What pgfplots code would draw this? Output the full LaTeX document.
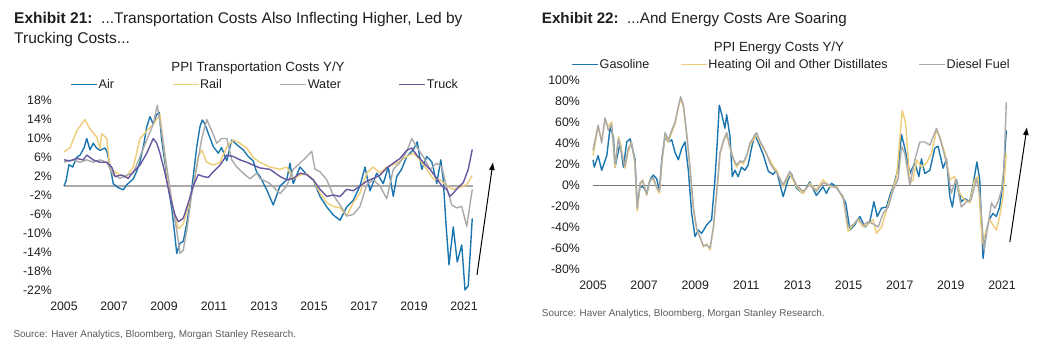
\documentclass[border=0pt]{standalone}
\usepackage{fontspec}
\setmainfont{Liberation Sans}
\usepackage{pgfplots}
\pgfplotsset{compat=1.18}
\usetikzlibrary{arrows.meta}
\definecolor{cblue}{RGB}{27,118,175}
\definecolor{cyel}{RGB}{238,204,120}
\definecolor{cgray}{RGB}{170,170,170}
\definecolor{cpurp}{RGB}{104,86,160}
\definecolor{zerol}{RGB}{170,170,170}
\definecolor{zeror}{RGB}{120,120,120}
\definecolor{txt}{RGB}{30,30,30}
\definecolor{src}{RGB}{90,90,90}
\pgfplotsset{
  msstyle/.style={
    scale only axis, clip=false,
    axis line style={draw=none}, major tick length=0pt,
    /pgf/number format/assume math mode=true,
    tick label style={font=\fontsize{12.3}{14}\selectfont, text=txt},
    yticklabel style={anchor=east, inner sep=0pt},
    xticklabel style={anchor=north, inner sep=0pt},
    xmin=2005, xmax=2022,
    xtick={2005,2007,...,2021},
    xticklabels={2005,2007,2009,2011,2013,2015,2017,2019,2021},
    legend columns=4,
    legend image code/.code={\draw[#1, line width=1pt] (0pt,0pt) -- (26pt,0pt);},
    legend style={draw=none, fill=none, inner sep=0pt, outer sep=0pt,
      font=\fontsize{12.6}{14}\selectfont, text=txt,
      nodes={inner xsep=1pt, inner ysep=0pt}, anchor=west},
    every axis plot/.append style={line width=1.4pt, line join=round},
  }
}
\begin{document}
\begin{tikzpicture}[x=1pt,y=1pt]
\useasboundingbox (0,0) rectangle (1041,-345);
% ---- titles
\node[anchor=base west, inner sep=0pt, font=\fontsize{15.5}{18}\selectfont, text=txt] at (14,-24) {\textbf{Exhibit 21:}\ \ ...Transportation Costs Also Inflecting Higher, Led by};
\node[anchor=base west, inner sep=0pt, font=\fontsize{15.5}{18}\selectfont, text=txt] at (14,-43.5) {Trucking Costs...};
\node[anchor=base west, inner sep=0pt, font=\fontsize{15.2}{18}\selectfont, text=txt] at (541.7,-24) {\textbf{Exhibit 22:}\ \ ...And Energy Costs Are Soaring};
\node[anchor=base, inner sep=0pt, font=\fontsize{13.3}{16}\selectfont, text=txt] at (258,-71.7) {PPI Transportation Costs Y/Y};
\node[anchor=base, inner sep=0pt, font=\fontsize{13.3}{16}\selectfont, text=txt] at (779,-51.7) {PPI Energy Costs Y/Y};
\node[anchor=base west, inner sep=0pt, font=\fontsize{9.9}{12}\selectfont, text=src] at (13.3,-337.5) {Source: Haver Analytics, Bloomberg, Morgan Stanley Research.};
\node[anchor=base west, inner sep=0pt, font=\fontsize{9.9}{12}\selectfont, text=src] at (541.7,-316.5) {Source: Haver Analytics, Bloomberg, Morgan Stanley Research.};

% ---- left axis
\begin{axis}[msstyle, at={(64pt,-290.5pt)}, anchor=south west,
  width=425pt, height=190pt, ymin=-22, ymax=18,
  ytick={-22,-18,...,18},
  yticklabels={-22\%,-18\%,-14\%,-10\%,-6\%,-2\%,2\%,6\%,10\%,14\%,18\%},
  yticklabel style={xshift=-12pt},
  xticklabel style={yshift=-11pt},
  legend style={at={(rel axis cs:0.0158,1.083)}, /tikz/every even column/.append style={column sep=57pt}},
]
\addplot[zerol, line width=1.6pt, forget plot] coordinates {(2005,0) (2021.35,0)};
\addplot[cblue] coordinates {(2005.0,0) (2005.08,1) (2005.2,4.5) (2005.35,4) (2005.5,6) (2005.64,6.5) (2005.8,8) (2005.91,10) (2006.04,7.6) (2006.17,9) (2006.3,8) (2006.44,7.5) (2006.64,8) (2006.72,7.2) (2006.85,4) (2006.97,0.5) (2007.15,-0.3) (2007.37,-0.8) (2007.5,0.2) (2007.77,1.5) (2007.9,3) (2008.04,5.1) (2008.2,9) (2008.31,12.5) (2008.44,14.6) (2008.57,13) (2008.7,15) (2008.81,15.5) (2008.9,10) (2009.04,4.8) (2009.17,-0.2) (2009.31,-4.7) (2009.44,-10.7) (2009.51,-14.2) (2009.64,-12) (2009.77,-11.7) (2009.91,-7.9) (2010.04,-3.6) (2010.17,2) (2010.31,8.3) (2010.44,12.5) (2010.53,13.9) (2010.64,13) (2010.77,11.1) (2010.97,8.3) (2011.17,6.9) (2011.3,8.1) (2011.51,5.3) (2011.71,9.7) (2011.91,8.7) (2012.17,7.6) (2012.37,6.2) (2012.57,5.3) (2012.7,3) (2012.84,2) (2013.11,-0.8) (2013.37,-4) (2013.64,0) (2013.91,1.3) (2014.04,4.8) (2014.17,0.5) (2014.44,4) (2014.71,2.4) (2014.97,1.3) (2015.24,-2.2) (2015.51,-4.4) (2015.77,-6.1) (2016.04,-7.2) (2016.31,-4.4) (2016.57,-3) (2016.84,0) (2017.04,4) (2017.24,-1) (2017.51,2.7) (2017.77,0.5) (2017.97,4) (2018.17,-2.2) (2018.31,2) (2018.5,3.5) (2018.71,6.2) (2018.97,7.6) (2019.13,9.3) (2019.31,3.5) (2019.51,6.2) (2019.71,5.1) (2019.91,0.5) (2020.07,5.5) (2020.17,1.3) (2020.28,-8) (2020.4,-16.6) (2020.57,-8.6) (2020.73,-16) (2020.91,-12.4) (2021.04,-21.9) (2021.17,-21) (2021.33,-6.8)};
\addlegendentry{Air}
\addplot[cyel] coordinates {(2005.0,7.2) (2005.24,8) (2005.51,11.6) (2005.84,14) (2006.04,12) (2006.31,10.3) (2006.44,7.8) (2006.51,11) (2006.71,10) (2006.84,3.5) (2007.04,3) (2007.24,2.3) (2007.5,2) (2007.77,4) (2008.04,10) (2008.31,11.6) (2008.57,13) (2008.84,15) (2008.97,9) (2009.17,0.5) (2009.37,-5) (2009.57,-9) (2009.77,-8) (2009.97,-4.4) (2010.17,0) (2010.37,6.2) (2010.51,7.6) (2010.71,5) (2010.97,4.4) (2011.24,5) (2011.51,8.2) (2011.77,9.7) (2012.04,9) (2012.31,8) (2012.57,6) (2012.84,5) (2013.24,4) (2013.64,3.5) (2013.91,4) (2014.17,1.5) (2014.44,2.3) (2014.71,2.6) (2014.97,1.3) (2015.24,-1.5) (2015.51,-3.5) (2015.77,-4.3) (2016.04,-4.6) (2016.31,-6.3) (2016.57,-3.5) (2016.84,-1.5) (2017.11,2.7) (2017.37,4) (2017.64,2.7) (2017.91,4) (2018.31,4.8) (2018.71,6.2) (2018.97,6.9) (2019.24,5.5) (2019.51,3.5) (2019.77,1.5) (2020.04,1.3) (2020.31,0) (2020.57,-0.7) (2020.84,-0.3) (2021.11,0.3) (2021.33,2.2)};
\addlegendentry{Rail}
\addplot[cgray] coordinates {(2005.0,5) (2005.37,5.5) (2005.64,5) (2005.91,5.5) (2006.17,5) (2006.44,5.5) (2006.71,5) (2006.97,2.3) (2007.24,1.6) (2007.51,2.3) (2007.77,2.7) (2008.04,6.2) (2008.31,9.7) (2008.57,13) (2008.73,17) (2008.9,11.6) (2009.11,4) (2009.31,-3) (2009.51,-9.4) (2009.64,-14.2) (2009.77,-13.5) (2009.91,-9.4) (2010.11,-1.6) (2010.31,4) (2010.51,10) (2010.71,14) (2010.91,11.6) (2011.11,9) (2011.31,10) (2011.51,10) (2011.71,5.5) (2011.91,4) (2012.17,2.7) (2012.44,1.5) (2012.71,2.7) (2012.84,1.6) (2013.24,0.5) (2013.64,-1.6) (2013.91,0) (2014.17,3.5) (2014.44,4.8) (2014.71,6.2) (2014.91,7.3) (2015.04,3.5) (2015.24,3) (2015.51,1.3) (2015.77,-1.9) (2016.04,-4) (2016.31,-6.3) (2016.57,-6) (2016.84,-4.3) (2017.11,0.3) (2017.37,1.3) (2017.64,0) (2017.91,-2.7) (2018.17,3.5) (2018.44,5) (2018.71,7.3) (2018.91,10) (2019.11,8.2) (2019.37,6.2) (2019.64,3.5) (2019.91,4.8) (2020.11,4) (2020.31,-0.3) (2020.51,-4) (2020.71,-4.6) (2020.91,-4.3) (2021.11,-8.5) (2021.33,-0.7)};
\addlegendentry{Water}
\addplot[cpurp] coordinates {(2005.0,5.5) (2005.24,5.3) (2005.51,5.8) (2005.77,5.5) (2005.91,6.5) (2006.17,5.5) (2006.44,5) (2006.71,5) (2006.91,4) (2007.04,2) (2007.31,2.3) (2007.57,1.6) (2007.77,3) (2008.04,4.4) (2008.31,6.9) (2008.57,10) (2008.71,9) (2008.84,6.9) (2009.04,2.7) (2009.24,-2.2) (2009.44,-6.1) (2009.57,-7.5) (2009.77,-6.8) (2009.97,-3.6) (2010.17,0) (2010.37,2.4) (2010.57,2) (2010.77,1.8) (2010.97,3) (2011.24,4.4) (2011.51,6.5) (2011.77,6.2) (2012.04,5.5) (2012.31,5) (2012.57,4.4) (2012.84,3.8) (2013.24,3.5) (2013.64,2) (2013.91,1.3) (2014.17,1.6) (2014.44,2.7) (2014.71,2.4) (2014.97,1.3) (2015.24,-0.7) (2015.51,-2.2) (2015.77,-1.9) (2016.04,-2.2) (2016.31,-0.7) (2016.57,-1) (2016.84,0) (2017.11,1) (2017.37,1.6) (2017.64,2.3) (2017.91,3.8) (2018.17,4.8) (2018.44,5.8) (2018.71,7.5) (2018.91,8) (2019.11,6.5) (2019.37,5) (2019.64,3.5) (2019.91,1.6) (2020.11,0) (2020.31,-0.7) (2020.44,-2.2) (2020.57,-1.5) (2020.77,-0.3) (2020.97,0.7) (2021.17,3.5) (2021.33,7.7)};
\addlegendentry{Truck}
\draw[-{Latex[length=8pt,width=6pt]}, line width=1pt, black] (axis cs:2021.52,-18.7) -- (axis cs:2022.16,5.05);
\end{axis}

% ---- right axis
\begin{axis}[msstyle, at={(593pt,-269pt)}, anchor=south west,
  width=434.5pt, height=189pt, ymin=-80, ymax=100,
  ytick={-80,-60,...,100},
  yticklabels={-80\%,-60\%,-40\%,-20\%,0\%,20\%,40\%,60\%,80\%,100\%},
  yticklabel style={xshift=-13pt},
  xticklabel style={yshift=-11.5pt},
  legend style={at={(rel axis cs:-0.049,1.083)}, /tikz/every even column/.append style={column sep=30pt}},
]
\addplot[zeror, line width=0.8pt, forget plot] coordinates {(2005,0) (2021.2,0)};
\addplot[cblue] coordinates {(2005.0,24) (2005.05,17) (2005.2,28) (2005.34,14) (2005.54,28) (2005.67,55) (2005.8,46) (2005.86,17) (2006.06,40) (2006.19,17) (2006.32,41) (2006.45,44) (2006.64,25) (2006.73,-20) (2006.84,-2) (2006.97,-1.6) (2007.1,-8) (2007.23,5) (2007.36,9.5) (2007.49,6) (2007.6,-5) (2007.69,24) (2007.82,46) (2007.95,41) (2008.08,43) (2008.21,31) (2008.34,24) (2008.47,35) (2008.6,41) (2008.73,14) (2008.86,-27) (2008.99,-49) (2009.12,-43) (2009.25,-46) (2009.45,-38) (2009.64,-33) (2009.77,5) (2009.86,40) (2009.94,76) (2010.03,68) (2010.16,54) (2010.23,67) (2010.36,46) (2010.45,8) (2010.55,14) (2010.68,8) (2010.81,17) (2010.94,14) (2011.07,19) (2011.2,35) (2011.33,48) (2011.46,41) (2011.66,29) (2011.86,13) (2012.05,10) (2012.18,14) (2012.3,2) (2012.44,-11) (2012.63,5) (2012.76,11) (2012.96,-3) (2013.22,-8) (2013.48,3) (2013.74,-10) (2014.0,-1.6) (2014.13,-8) (2014.33,1.6) (2014.53,-1.6) (2014.72,-10) (2014.89,-17) (2015.05,-43) (2015.24,-38) (2015.44,-30) (2015.64,-40) (2015.83,-35) (2015.99,-16) (2016.12,-30) (2016.29,-22) (2016.48,-21) (2016.64,-8) (2016.77,0) (2016.94,16) (2017.07,48) (2017.2,35) (2017.4,11) (2017.59,21) (2017.75,8) (2017.85,25) (2017.98,11) (2018.18,14) (2018.37,35) (2018.5,37) (2018.7,16) (2018.83,25) (2018.96,-11) (2019.06,-21) (2019.22,5) (2019.41,-16) (2019.54,-13) (2019.74,-16) (2019.87,0) (2020.02,22) (2020.13,5) (2020.26,-70) (2020.39,-43) (2020.52,-32) (2020.65,-27) (2020.78,-30) (2020.91,-21) (2021.04,1.6) (2021.17,52)};
\addlegendentry{Gasoline}
\addplot[cyel] coordinates {(2005.0,28) (2005.2,55) (2005.34,43) (2005.47,62) (2005.6,56) (2005.73,60) (2005.86,17) (2006.0,46) (2006.12,33) (2006.25,16) (2006.38,32) (2006.51,41) (2006.64,20) (2006.73,-25) (2006.84,0) (2006.94,5) (2007.1,-10) (2007.23,5) (2007.36,6) (2007.49,-3) (2007.6,-8) (2007.69,20) (2007.82,48) (2007.95,41) (2008.08,50) (2008.21,58) (2008.34,74) (2008.43,82) (2008.54,74) (2008.67,46) (2008.8,14) (2008.93,-24) (2009.06,-43) (2009.19,-49) (2009.32,-59) (2009.45,-56) (2009.58,-62) (2009.71,-41) (2009.84,-8) (2009.97,29) (2010.1,41) (2010.23,48) (2010.36,35) (2010.49,24) (2010.62,17) (2010.75,22) (2010.88,20) (2011.01,27) (2011.14,38) (2011.27,43) (2011.4,48) (2011.53,40) (2011.66,35) (2011.79,29) (2011.92,24) (2012.05,18) (2012.18,14) (2012.44,-1.6) (2012.7,11) (2012.96,-1.6) (2013.22,-8) (2013.48,1.6) (2013.74,-5) (2014.0,5) (2014.26,-1.6) (2014.53,-1.6) (2014.79,-13) (2014.98,-44) (2015.18,-38) (2015.37,-33) (2015.57,-40) (2015.77,-37) (2015.96,-33) (2016.09,-46) (2016.29,-40) (2016.48,-24) (2016.68,-8) (2016.88,8) (2017.0,43) (2017.1,71) (2017.23,59) (2017.4,1.6) (2017.53,5) (2017.66,24) (2017.85,17) (2018.05,21) (2018.24,30) (2018.44,52) (2018.57,46) (2018.77,30) (2018.96,5) (2019.15,8) (2019.35,-8) (2019.54,-14) (2019.74,-17) (2019.93,5) (2020.06,8) (2020.23,-56) (2020.39,-43) (2020.52,-33) (2020.65,-38) (2020.78,-43) (2020.91,-30) (2021.04,-11) (2021.17,30)};
\addlegendentry{Heating Oil and Other Distillates}
\addplot[cgray] coordinates {(2005.0,33) (2005.2,57) (2005.34,40) (2005.47,64) (2005.6,52) (2005.73,58) (2005.86,20) (2006.0,44) (2006.12,30) (2006.25,18) (2006.38,35) (2006.51,40) (2006.64,22) (2006.73,-22) (2006.84,2) (2006.94,4) (2007.1,-9) (2007.23,4) (2007.36,7) (2007.49,-2) (2007.6,-6) (2007.69,22) (2007.82,50) (2007.95,43) (2008.08,52) (2008.21,60) (2008.34,75) (2008.43,84) (2008.54,76) (2008.67,48) (2008.8,16) (2008.93,-22) (2009.06,-42) (2009.19,-50) (2009.32,-58) (2009.45,-57) (2009.58,-60) (2009.71,-40) (2009.84,-6) (2009.97,31) (2010.1,42) (2010.23,50) (2010.36,36) (2010.49,25) (2010.62,19) (2010.75,23) (2010.88,22) (2011.01,28) (2011.14,40) (2011.27,45) (2011.4,50) (2011.53,42) (2011.66,36) (2011.79,30) (2011.92,21) (2012.05,16) (2012.18,12) (2012.44,0) (2012.7,13) (2012.96,0) (2013.22,-6) (2013.48,0) (2013.74,-6) (2014.0,2) (2014.26,0) (2014.53,-3) (2014.79,-11) (2014.98,-40) (2015.18,-38) (2015.37,-32) (2015.57,-38) (2015.77,-35) (2015.96,-37) (2016.16,-40) (2016.35,-27) (2016.55,-21) (2016.74,-5) (2016.94,6) (2017.07,37) (2017.2,30) (2017.4,0) (2017.59,24) (2017.79,41) (2017.98,41) (2018.18,38) (2018.44,54) (2018.63,40) (2018.83,21) (2019.02,-8) (2019.19,5) (2019.41,-21) (2019.61,-16) (2019.8,-14) (2020.0,6) (2020.13,-8) (2020.3,-62) (2020.46,-37) (2020.59,-17) (2020.72,-22) (2020.85,-16) (2020.98,-5) (2021.08,17) (2021.17,79)};
\addlegendentry{Diesel Fuel}
\draw[-{Latex[length=8pt,width=6pt]}, line width=1pt, black] (axis cs:2021.31,-54.3) -- (axis cs:2021.98,55.2);
\end{axis}
\end{tikzpicture}
\end{document}
